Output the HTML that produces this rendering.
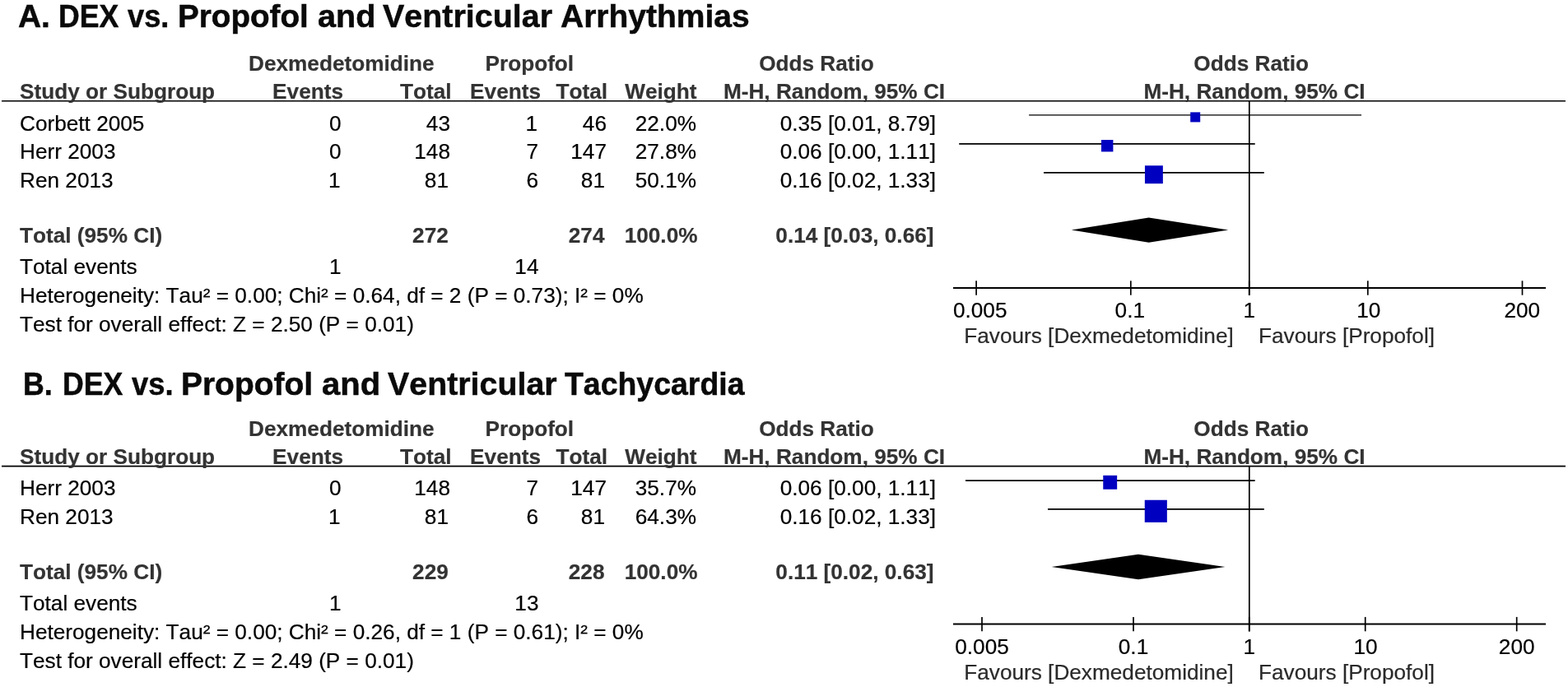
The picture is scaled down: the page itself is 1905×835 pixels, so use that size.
<!DOCTYPE html>
<html lang="en">
<head>
<meta charset="utf-8">
<title>Forest plots: DEX vs. Propofol</title>
<style>
html,body{margin:0;padding:0;background:#fff;}
body{width:1905px;height:835px;position:relative;overflow:hidden;font-family:"Liberation Sans",sans-serif;font-kerning:none;font-variant-ligatures:none;}
.t{position:absolute;white-space:pre;margin:0;padding:0;-webkit-text-stroke:0.2px currentColor;}
.title{position:absolute;left:0;white-space:pre;font-weight:bold;color:#0a0a0a;width:1905px;height:1em;-webkit-text-stroke:0.5px #0a0a0a;}
.title span{position:absolute;top:0;left:0;transform-origin:0 0;}
svg{position:absolute;left:0;top:0;}
</style>
</head>
<body>
<svg width="1905" height="835" viewBox="0 0 1905 835">
<line x1="2" y1="122.75" x2="1902" y2="122.75" stroke="#000" stroke-width="1.7"/>
<line x1="1517.8" y1="122.75" x2="1517.8" y2="358.9" stroke="#000" stroke-width="1.7"/>
<line x1="1158" y1="349.9" x2="1878" y2="349.9" stroke="#000" stroke-width="2.0"/>
<line x1="1186.1" y1="341.29999999999995" x2="1186.1" y2="358.7" stroke="#000" stroke-width="1.7"/>
<line x1="1373.8" y1="341.29999999999995" x2="1373.8" y2="358.7" stroke="#000" stroke-width="1.7"/>
<line x1="1517.7" y1="341.29999999999995" x2="1517.7" y2="358.7" stroke="#000" stroke-width="1.7"/>
<line x1="1661.8" y1="341.29999999999995" x2="1661.8" y2="358.7" stroke="#000" stroke-width="1.7"/>
<line x1="1849.5" y1="341.29999999999995" x2="1849.5" y2="358.7" stroke="#000" stroke-width="1.7"/>
<line x1="1250.1" y1="139.9" x2="1654" y2="139.9" stroke="#000" stroke-width="1.3"/>
<rect x="1446.20" y="136.40" width="12" height="12" fill="#0000c0"/>
<line x1="1165.2" y1="174.9" x2="1524.7" y2="174.9" stroke="#000" stroke-width="1.8"/>
<rect x="1338.00" y="170.00" width="14.4" height="14.4" fill="#0000c0"/>
<line x1="1268" y1="209.9" x2="1535.8" y2="209.9" stroke="#000" stroke-width="1.8"/>
<rect x="1390.95" y="201.25" width="21.9" height="21.9" fill="#0000c0"/>
<polygon points="1301.7,279.6 1395.7,264.45000000000005 1492.3,279.6 1395.7,294.75" fill="#000"/>
<line x1="2" y1="566.7" x2="1902" y2="566.7" stroke="#000" stroke-width="1.7"/>
<line x1="1517.8" y1="566.7" x2="1517.8" y2="767.5" stroke="#000" stroke-width="1.7"/>
<line x1="1158" y1="758.5" x2="1878" y2="758.5" stroke="#000" stroke-width="2.0"/>
<line x1="1193" y1="749.9" x2="1193" y2="767.3" stroke="#000" stroke-width="1.7"/>
<line x1="1377" y1="749.9" x2="1377" y2="767.3" stroke="#000" stroke-width="1.7"/>
<line x1="1517.7" y1="749.9" x2="1517.7" y2="767.3" stroke="#000" stroke-width="1.7"/>
<line x1="1658.7" y1="749.9" x2="1658.7" y2="767.3" stroke="#000" stroke-width="1.7"/>
<line x1="1842.7" y1="749.9" x2="1842.7" y2="767.3" stroke="#000" stroke-width="1.7"/>
<line x1="1173" y1="584.1" x2="1524.7" y2="584.1" stroke="#000" stroke-width="1.8"/>
<rect x="1340.25" y="577.85" width="16.9" height="16.9" fill="#0000c0"/>
<line x1="1273" y1="618.9" x2="1535.8" y2="618.9" stroke="#000" stroke-width="1.8"/>
<rect x="1390.75" y="607.75" width="27.1" height="27.1" fill="#0000c0"/>
<polygon points="1277.6,689 1383,673.85 1488.4,689 1383,704.15" fill="#000"/>
</svg>
<div class="title" style="top:0.66px;font-size:38.2px;line-height:38.2px;"><span style="left:21.73px;transform:scaleX(1.0186);">A.</span> <span style="left:70.78px;transform:scaleX(0.9325);">DEX</span> <span style="left:154.82px;transform:scaleX(0.9499);">vs.</span> <span style="left:216.19px;transform:scaleX(1.0115);">Propofol</span> <span style="left:385.61px;transform:scaleX(1.0381);">and</span> <span style="left:465.00px;transform:scaleX(1.0325);">Ventricular</span> <span style="left:680.92px;transform:scaleX(1.0211);">Arrhythmias</span></div>
<div class="t " style="top:64px;font-size:26.2px;line-height:26.2px;color:#333;font-weight:bold;left:302.00px;">Dexmedetomidine</div>
<div class="t " style="top:64px;font-size:26.2px;line-height:26.2px;color:#333;font-weight:bold;left:589.50px;">Propofol</div>
<div class="t " style="top:64px;font-size:26.2px;line-height:26.2px;color:#333;font-weight:bold;left:992.00px;transform:translateX(-50%);">Odds Ratio</div>
<div class="t " style="top:64px;font-size:26.2px;line-height:26.2px;color:#333;font-weight:bold;left:1520.20px;transform:translateX(-50%);">Odds Ratio</div>
<div class="t " style="top:98px;font-size:26.2px;line-height:26.2px;color:#333;font-weight:bold;left:24.00px;">Study or Subgroup</div>
<div class="t " style="top:98px;font-size:26.2px;line-height:26.2px;color:#333;font-weight:bold;right:1488.00px;">Events</div>
<div class="t " style="top:98px;font-size:26.2px;line-height:26.2px;color:#333;font-weight:bold;right:1356.50px;">Total</div>
<div class="t " style="top:98px;font-size:26.2px;line-height:26.2px;color:#333;font-weight:bold;right:1248.00px;">Events</div>
<div class="t " style="top:98px;font-size:26.2px;line-height:26.2px;color:#333;font-weight:bold;right:1167.00px;">Total</div>
<div class="t " style="top:98px;font-size:26.2px;line-height:26.2px;color:#333;font-weight:bold;right:1058.50px;">Weight</div>
<div class="t " style="top:98px;font-size:26.2px;line-height:26.2px;color:#333;font-weight:bold;left:1013.50px;transform:translateX(-50%);">M-H, Random, 95% CI</div>
<div class="t " style="top:98px;font-size:26.2px;line-height:26.2px;color:#333;font-weight:bold;left:1524.00px;transform:translateX(-50%);">M-H, Random, 95% CI</div>
<div class="t " style="top:137px;font-size:26.2px;line-height:26.2px;color:#000;left:24.00px;">Corbett 2005</div>
<div class="t " style="top:137px;font-size:26.2px;line-height:26.2px;color:#000;right:1490.50px;">0</div>
<div class="t " style="top:137px;font-size:26.2px;line-height:26.2px;color:#000;right:1358.00px;">43</div>
<div class="t " style="top:137px;font-size:26.2px;line-height:26.2px;color:#000;right:1252.00px;">1</div>
<div class="t " style="top:137px;font-size:26.2px;line-height:26.2px;color:#000;right:1168.00px;">46</div>
<div class="t " style="top:137px;font-size:26.2px;line-height:26.2px;color:#000;right:1059.00px;">22.0%</div>
<div class="t " style="top:137px;font-size:26.2px;line-height:26.2px;color:#000;right:768.00px;">0.35 [0.01, 8.79]</div>
<div class="t " style="top:171px;font-size:26.2px;line-height:26.2px;color:#000;left:24.00px;">Herr 2003</div>
<div class="t " style="top:171px;font-size:26.2px;line-height:26.2px;color:#000;right:1490.50px;">0</div>
<div class="t " style="top:171px;font-size:26.2px;line-height:26.2px;color:#000;right:1358.00px;">148</div>
<div class="t " style="top:171px;font-size:26.2px;line-height:26.2px;color:#000;right:1251.00px;">7</div>
<div class="t " style="top:171px;font-size:26.2px;line-height:26.2px;color:#000;right:1168.00px;">147</div>
<div class="t " style="top:171px;font-size:26.2px;line-height:26.2px;color:#000;right:1059.00px;">27.8%</div>
<div class="t " style="top:171px;font-size:26.2px;line-height:26.2px;color:#000;right:768.00px;">0.06 [0.00, 1.11]</div>
<div class="t " style="top:206px;font-size:26.2px;line-height:26.2px;color:#000;left:24.00px;">Ren 2013</div>
<div class="t " style="top:206px;font-size:26.2px;line-height:26.2px;color:#000;right:1491.50px;">1</div>
<div class="t " style="top:206px;font-size:26.2px;line-height:26.2px;color:#000;right:1360.00px;">81</div>
<div class="t " style="top:206px;font-size:26.2px;line-height:26.2px;color:#000;right:1251.00px;">6</div>
<div class="t " style="top:206px;font-size:26.2px;line-height:26.2px;color:#000;right:1170.00px;">81</div>
<div class="t " style="top:206px;font-size:26.2px;line-height:26.2px;color:#000;right:1059.00px;">50.1%</div>
<div class="t " style="top:206px;font-size:26.2px;line-height:26.2px;color:#000;right:768.00px;">0.16 [0.02, 1.33]</div>
<div class="t " style="top:273px;font-size:26.2px;line-height:26.2px;color:#333;font-weight:bold;left:24.00px;">Total (95% CI)</div>
<div class="t " style="top:273px;font-size:26.2px;line-height:26.2px;color:#333;font-weight:bold;right:1360.20px;">272</div>
<div class="t " style="top:273px;font-size:26.2px;line-height:26.2px;color:#333;font-weight:bold;right:1170.50px;">274</div>
<div class="t " style="top:273px;font-size:26.2px;line-height:26.2px;color:#333;font-weight:bold;right:1057.50px;">100.0%</div>
<div class="t " style="top:273px;font-size:26.2px;line-height:26.2px;color:#333;font-weight:bold;right:770.50px;">0.14 [0.03, 0.66]</div>
<div class="t " style="top:311px;font-size:26.2px;line-height:26.2px;color:#000;left:24.00px;">Total events</div>
<div class="t " style="top:311px;font-size:26.2px;line-height:26.2px;color:#000;right:1490.50px;">1</div>
<div class="t " style="top:311px;font-size:26.2px;line-height:26.2px;color:#000;right:1250.50px;">14</div>
<div class="t " style="top:346px;font-size:26.2px;line-height:26.2px;color:#000;left:24.00px;">Heterogeneity: Tau² = 0.00; Chi² = 0.64, df = 2 (P = 0.73); I² = 0%</div>
<div class="t " style="top:381px;font-size:26.2px;line-height:26.2px;color:#000;left:24.00px;">Test for overall effect: Z = 2.50 (P = 0.01)</div>
<div class="t " style="top:364px;font-size:26.2px;line-height:26.2px;color:#000;left:1190.70px;transform:translateX(-50%);">0.005</div>
<div class="t " style="top:364px;font-size:26.2px;line-height:26.2px;color:#000;left:1372.80px;transform:translateX(-50%);">0.1</div>
<div class="t " style="top:364px;font-size:26.2px;line-height:26.2px;color:#000;left:1517.70px;transform:translateX(-50%);">1</div>
<div class="t " style="top:364px;font-size:26.2px;line-height:26.2px;color:#000;left:1662.80px;transform:translateX(-50%);">10</div>
<div class="t " style="top:364px;font-size:26.2px;line-height:26.2px;color:#000;left:1849.30px;transform:translateX(-50%);">200</div>
<div class="t " style="top:395px;font-size:26.2px;line-height:26.2px;color:#2a2a2a;left:1335.00px;transform:translateX(-50%);">Favours [Dexmedetomidine]</div>
<div class="t " style="top:395px;font-size:26.2px;line-height:26.2px;color:#2a2a2a;left:1636.00px;transform:translateX(-50%);">Favours [Propofol]</div>
<div class="title" style="top:448.16px;font-size:38.2px;line-height:38.2px;"><span style="left:28.38px;transform:scaleX(0.9358);">B.</span> <span style="left:75.78px;transform:scaleX(0.9338);">DEX</span> <span style="left:159.82px;transform:scaleX(0.9519);">vs.</span> <span style="left:220.47px;transform:scaleX(1.0194);">Propofol</span> <span style="left:390.60px;transform:scaleX(1.0474);">and</span> <span style="left:470.50px;transform:scaleX(1.0305);">Ventricular</span> <span style="left:686.03px;transform:scaleX(0.9802);">Tachycardia</span></div>
<div class="t " style="top:508px;font-size:26.2px;line-height:26.2px;color:#333;font-weight:bold;left:302.00px;">Dexmedetomidine</div>
<div class="t " style="top:508px;font-size:26.2px;line-height:26.2px;color:#333;font-weight:bold;left:589.50px;">Propofol</div>
<div class="t " style="top:508px;font-size:26.2px;line-height:26.2px;color:#333;font-weight:bold;left:992.00px;transform:translateX(-50%);">Odds Ratio</div>
<div class="t " style="top:508px;font-size:26.2px;line-height:26.2px;color:#333;font-weight:bold;left:1520.20px;transform:translateX(-50%);">Odds Ratio</div>
<div class="t " style="top:542px;font-size:26.2px;line-height:26.2px;color:#333;font-weight:bold;left:24.00px;">Study or Subgroup</div>
<div class="t " style="top:542px;font-size:26.2px;line-height:26.2px;color:#333;font-weight:bold;right:1488.00px;">Events</div>
<div class="t " style="top:542px;font-size:26.2px;line-height:26.2px;color:#333;font-weight:bold;right:1356.50px;">Total</div>
<div class="t " style="top:542px;font-size:26.2px;line-height:26.2px;color:#333;font-weight:bold;right:1248.00px;">Events</div>
<div class="t " style="top:542px;font-size:26.2px;line-height:26.2px;color:#333;font-weight:bold;right:1167.00px;">Total</div>
<div class="t " style="top:542px;font-size:26.2px;line-height:26.2px;color:#333;font-weight:bold;right:1058.50px;">Weight</div>
<div class="t " style="top:542px;font-size:26.2px;line-height:26.2px;color:#333;font-weight:bold;left:1013.50px;transform:translateX(-50%);">M-H, Random, 95% CI</div>
<div class="t " style="top:542px;font-size:26.2px;line-height:26.2px;color:#333;font-weight:bold;left:1524.00px;transform:translateX(-50%);">M-H, Random, 95% CI</div>
<div class="t " style="top:580px;font-size:26.2px;line-height:26.2px;color:#000;left:24.00px;">Herr 2003</div>
<div class="t " style="top:580px;font-size:26.2px;line-height:26.2px;color:#000;right:1490.50px;">0</div>
<div class="t " style="top:580px;font-size:26.2px;line-height:26.2px;color:#000;right:1358.00px;">148</div>
<div class="t " style="top:580px;font-size:26.2px;line-height:26.2px;color:#000;right:1251.00px;">7</div>
<div class="t " style="top:580px;font-size:26.2px;line-height:26.2px;color:#000;right:1168.00px;">147</div>
<div class="t " style="top:580px;font-size:26.2px;line-height:26.2px;color:#000;right:1059.00px;">35.7%</div>
<div class="t " style="top:580px;font-size:26.2px;line-height:26.2px;color:#000;right:768.00px;">0.06 [0.00, 1.11]</div>
<div class="t " style="top:615px;font-size:26.2px;line-height:26.2px;color:#000;left:24.00px;">Ren 2013</div>
<div class="t " style="top:615px;font-size:26.2px;line-height:26.2px;color:#000;right:1491.50px;">1</div>
<div class="t " style="top:615px;font-size:26.2px;line-height:26.2px;color:#000;right:1360.00px;">81</div>
<div class="t " style="top:615px;font-size:26.2px;line-height:26.2px;color:#000;right:1251.00px;">6</div>
<div class="t " style="top:615px;font-size:26.2px;line-height:26.2px;color:#000;right:1170.00px;">81</div>
<div class="t " style="top:615px;font-size:26.2px;line-height:26.2px;color:#000;right:1059.00px;">64.3%</div>
<div class="t " style="top:615px;font-size:26.2px;line-height:26.2px;color:#000;right:768.00px;">0.16 [0.02, 1.33]</div>
<div class="t " style="top:682px;font-size:26.2px;line-height:26.2px;color:#333;font-weight:bold;left:24.00px;">Total (95% CI)</div>
<div class="t " style="top:682px;font-size:26.2px;line-height:26.2px;color:#333;font-weight:bold;right:1360.20px;">229</div>
<div class="t " style="top:682px;font-size:26.2px;line-height:26.2px;color:#333;font-weight:bold;right:1170.50px;">228</div>
<div class="t " style="top:682px;font-size:26.2px;line-height:26.2px;color:#333;font-weight:bold;right:1057.50px;">100.0%</div>
<div class="t " style="top:682px;font-size:26.2px;line-height:26.2px;color:#333;font-weight:bold;right:770.50px;">0.11 [0.02, 0.63]</div>
<div class="t " style="top:720px;font-size:26.2px;line-height:26.2px;color:#000;left:24.00px;">Total events</div>
<div class="t " style="top:720px;font-size:26.2px;line-height:26.2px;color:#000;right:1490.50px;">1</div>
<div class="t " style="top:720px;font-size:26.2px;line-height:26.2px;color:#000;right:1250.50px;">13</div>
<div class="t " style="top:755px;font-size:26.2px;line-height:26.2px;color:#000;left:24.00px;">Heterogeneity: Tau² = 0.00; Chi² = 0.26, df = 1 (P = 0.61); I² = 0%</div>
<div class="t " style="top:790px;font-size:26.2px;line-height:26.2px;color:#000;left:24.00px;">Test for overall effect: Z = 2.49 (P = 0.01)</div>
<div class="t " style="top:773px;font-size:26.2px;line-height:26.2px;color:#000;left:1193.00px;transform:translateX(-50%);">0.005</div>
<div class="t " style="top:773px;font-size:26.2px;line-height:26.2px;color:#000;left:1377.00px;transform:translateX(-50%);">0.1</div>
<div class="t " style="top:773px;font-size:26.2px;line-height:26.2px;color:#000;left:1517.70px;transform:translateX(-50%);">1</div>
<div class="t " style="top:773px;font-size:26.2px;line-height:26.2px;color:#000;left:1659.00px;transform:translateX(-50%);">10</div>
<div class="t " style="top:773px;font-size:26.2px;line-height:26.2px;color:#000;left:1842.70px;transform:translateX(-50%);">200</div>
<div class="t " style="top:804px;font-size:26.2px;line-height:26.2px;color:#2a2a2a;left:1335.00px;transform:translateX(-50%);">Favours [Dexmedetomidine]</div>
<div class="t " style="top:804px;font-size:26.2px;line-height:26.2px;color:#2a2a2a;left:1636.00px;transform:translateX(-50%);">Favours [Propofol]</div>
</body>
</html>
